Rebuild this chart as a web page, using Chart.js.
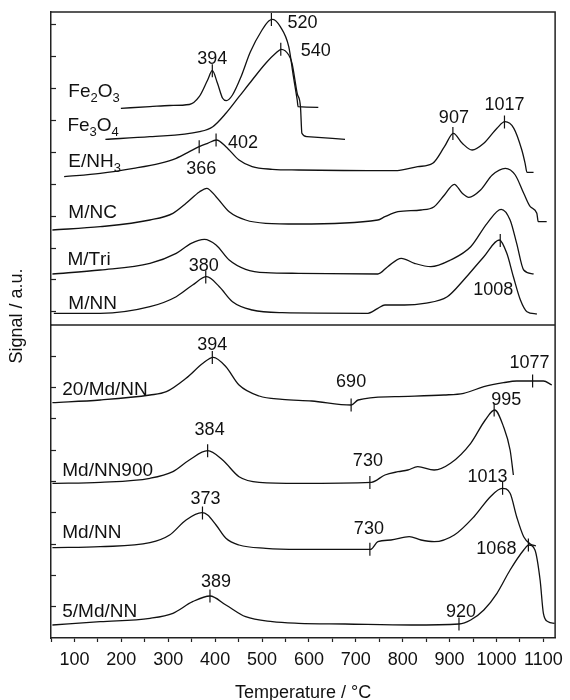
<!DOCTYPE html>
<html>
<head>
<meta charset="utf-8">
<script src="https://cdn.jsdelivr.net/npm/chart.js@4/dist/chart.umd.min.js"></script>
<style>
  html, body { margin: 0; padding: 0; background: #fff; }
  #wrap { position: relative; width: 570px; height: 700px; }
</style>
</head>
<body>
<div id="wrap"><canvas id="tpr" width="570" height="700"></canvas></div>
<script>
// ---- H2-TPR profiles: [temperature °C, signal a.u.] ----
// upper panel (reference materials)
const fe2o3 = [[199,216.7],[261,218.3],[303,219.5],[345,220.5],[366,228.3],[384,245],[394,254.3],[405,241.7],[416,226.7],[424,224.3],[437,230],[455,248],[475,273],[500,295],[515,304.3],[523,305.7],[539,298.3],[557,278.3],[567,248.3],[575,225],[577,218.3],[620,217.7]];
const fe3o4 = [[166,185.7],[261,188.3],[367,193.3],[395,198.3],[423,211.7],[451,228.3],[479,245],[508,261.7],[529,271.7],[541,275.7],[557,270],[564,261.7],[575,231.7],[582,218.3],[585,191.7],[596,188.3],[677,185.7]];
const eNH3 = [[78,148.3],[155,151.7],[226,156.7],[282,161.7],[317,166.7],[345,173.3],[366,178.3],[384,181.7],[403,185],[423,178.3],[451,165],[479,158.3],[522,155.7],[578,155],[783,154.3],[832,158.3],[864,161.7],[889,178.3],[908,191.7],[927,181.7],[948,175],[973,181.7],[1001,196.7],[1018,203.3],[1037,196.7],[1054,175],[1061,161.7],[1065,152.7],[1079,152.7]];
const mNC = [[53,95],[155,98.3],[261,105],[310,111.7],[338,121.7],[367,133.3],[382,136.7],[402,128.3],[430,113.3],[465,105],[508,101.7],[578,101],[747,105],[762,108.3],[790,113.3],[839,115],[867,118.3],[889,130],[910,140.7],[927,131.7],[941,127.7],[966,135],[991,150],[1019,156.7],[1040,150],[1058,131.7],[1072,118.3],[1086,111.7],[1089,103.3],[1107,103.3]];
const mTri = [[53,51],[155,55],[261,61.7],[317,71.7],[349,81.7],[377,85.7],[402,80],[430,65],[465,55.7],[508,52.3],[578,51.7],[747,51],[768,58.3],[797,66.7],[825,61.7],[860,58.3],[902,65],[945,78.3],[980,101.7],[1010,115.7],[1029,105],[1043,81.7],[1058,55],[1079,51]];
const mNN = [[56,11.7],[155,11.7],[261,18.3],[317,28.3],[352,40],[382,48.3],[409,38.3],[437,23.3],[479,15],[543,12.3],[726,11.7],[747,16.7],[762,20],[804,20],[846,21.7],[895,28.3],[930,45],[973,68.3],[1006,85],[1022,71.7],[1036,48.3],[1051,25],[1065,13.3],[1086,11]];
// lower panel (Md series)
const md20NN = [[53,235.3],[155,238],[261,243],[296,246.3],[338,259.7],[374,274.7],[396,280.7],[423,271.3],[451,253],[494,242],[543,238.7],[606,237],[690,233],[705,238],[783,241.3],[888,243],[930,244.7],[973,251.3],[1015,255.3],[1043,257],[1077,257],[1100,257],[1118,253]];
const mdNN900 = [[53,154.7],[155,155.7],[261,159.7],[310,166.3],[345,178],[384,187.3],[416,178],[451,161.3],[494,155.7],[578,154.7],[733,155.7],[762,163],[790,166.3],[811,168],[832,171.3],[867,168],[902,174.7],[945,194.7],[976,218],[996,228],[1015,211.3],[1029,188],[1036,163]];
const mdNN = [[53,90.3],[155,91.3],[261,95.3],[303,103],[338,118],[372,125.3],[384,123],[402,113],[423,99.7],[451,93],[508,89.7],[578,88.7],[732,88.7],[747,96.3],[775,98],[814,101.3],[839,98],[867,96.3],[910,103],[952,121.3],[987,141.3],[1012,149.7],[1029,144.7],[1043,121.3],[1058,101.3],[1072,94],[1084,92]];
const md5NN = [[53,13],[155,16.3],[261,19.7],[310,24.7],[352,36.3],[389,42],[423,33],[465,21.3],[522,16.3],[578,14.7],[677,14],[818,13],[920,14],[945,18],[973,28],[1001,44.7],[1029,68],[1058,88],[1069,93],[1082,88],[1093,58],[1100,24.7],[1110,16.3],[1124,14.7]];

// peak maxima: [temperature °C, signal a.u.]; the label is the temperature
const upperPeaks = [[394,254.3],[520,305.5],[540,275.7],[366,178.3],[402,185],[907,191.5],[1017,203],[380,48],[1008,84.5]];
const lowerPeaks = [[394,280.5],[690,233],[1077,257],[384,187.3],[730,155.5],[995,228],[373,125],[730,88.7],[1013,149.7],[389,42],[920,14],[1068,93]];

// sample names ("_x" = subscript x)
const upperNames = ['Fe_2O_3', 'Fe_3O_4', 'E/NH_3', 'M/NC', 'M/Tri', 'M/NN'];
const lowerNames = ['20/Md/NN', 'Md/NN900', 'Md/NN', '5/Md/NN'];

// axis ticks
const xTicks = [50,100,150,200,250,300,350,400,450,500,550,600,650,700,750,800,850,900,950,1000,1050,1100];
const upperTicks = [13.3,45.2,77.0,108.9,140.7,172.6,204.4,236.3,268.1,300];
const lowerTicks = [31.3,62.6,93.9,125.2,156.5,187.8,219.1,250.4,281.7];

// ---- placement of annotation text (pixel offsets from the peak marker) ----
const upperPeakLabelOffset = [[0,-12],[31,4],[35,2],[2,22],[27,3],[1,-15],[0,-17],[-2,-11],[-7,50]];
const lowerPeakLabelOffset = [[0,-12],[0,-23],[-3,-18],[2,-21],[-2,-21],[12,-10],[3,-14],[-1,-20],[-15,-11],[6,-14],[2,-12],[-32,4]];
// name anchors: [temperature, signal] of the text baseline start
const upperNameAnchor = [[87,228.3],[85,194.3],[87,158.3],[87,106.7],[85,60],[87,15.7]];
const lowerNameAnchor = [[74,243],[74,162],[74,99.7],[74,21.3]];

const FONT = '"Liberation Sans", Arial, Helvetica, sans-serif';
const INK = '#111';

function curve(data, axis) {
  return {
    type: 'line', data, yAxisID: axis,
    borderColor: INK, borderWidth: 1.3, pointRadius: 0, fill: false,
    cubicInterpolationMode: 'monotone'
  };
}
function markers(data, axis) {
  return {
    type: 'line', data, yAxisID: axis, showLine: false,
    pointStyle: 'line', rotation: 90, pointRadius: 6.5,
    pointBorderColor: INK, pointBorderWidth: 1.2, pointBackgroundColor: INK
  };
}

function drawRich(ctx, text, x, y, size) {
  // text with "_c" subscripts, left aligned at baseline y
  let cx = x;
  for (let i = 0; i < text.length; i++) {
    const ch = text[i];
    if (ch === '_' && i + 1 < text.length) {
      const s = text[++i];
      ctx.font = `${Math.round(size * 0.66)}px ${FONT}`;
      ctx.fillText(s, cx, y + size * 0.3);
      cx += ctx.measureText(s).width;
    } else {
      ctx.font = `${size}px ${FONT}`;
      ctx.fillText(ch, cx, y);
      cx += ctx.measureText(ch).width;
    }
  }
}

const annotations = {
  id: 'annotations',
  afterDraw(chart) {
    const { ctx, chartArea: a, scales } = chart;
    const xs = scales.x, yt = scales.yTop, yl = scales.yLow;
    ctx.save();
    // frame: top, right and panel divider
    ctx.strokeStyle = '#222';
    ctx.lineWidth = 1.5;
    ctx.beginPath();
    ctx.moveTo(a.left, a.top); ctx.lineTo(a.right, a.top); ctx.lineTo(a.right, a.bottom);
    ctx.moveTo(a.left, yt.bottom); ctx.lineTo(a.right, yt.bottom);
    ctx.stroke();

    ctx.fillStyle = INK;
    // peak values
    ctx.font = `18px ${FONT}`;
    ctx.textAlign = 'center';
    ctx.textBaseline = 'middle';
    const peakText = (peaks, offs, ys) => peaks.forEach((p, i) => {
      const px = xs.getPixelForValue(p[0]) + offs[i][0];
      const py = ys.getPixelForValue(p[1]) + offs[i][1];
      ctx.fillText(String(p[0]), px, py);
    });
    peakText(upperPeaks, upperPeakLabelOffset, yt);
    peakText(lowerPeaks, lowerPeakLabelOffset, yl);

    // sample names
    ctx.textAlign = 'left';
    ctx.textBaseline = 'alphabetic';
    upperNames.forEach((n, i) => drawRich(ctx, n, xs.getPixelForValue(upperNameAnchor[i][0]), yt.getPixelForValue(upperNameAnchor[i][1]), 19));
    lowerNames.forEach((n, i) => drawRich(ctx, n, xs.getPixelForValue(lowerNameAnchor[i][0]), yl.getPixelForValue(lowerNameAnchor[i][1]), 19));

    // y-axis title
    ctx.translate(17.5, (a.top + a.bottom) / 2 - 9);
    ctx.rotate(-Math.PI / 2);
    ctx.textAlign = 'center';
    ctx.textBaseline = 'middle';
    ctx.font = `18px ${FONT}`;
    ctx.fillText('Signal / a.u.', 0, 0);
    ctx.restore();
  }
};

function panelAxis(ticks) {
  return {
    type: 'linear', position: 'left', stack: 'panels', stackWeight: 1,
    min: 0, max: 313,
    afterBuildTicks: s => { s.ticks = ticks.map(v => ({ value: v })); },
    afterFit: s => { s.width = 51; },
    ticks: { display: false },
    grid: { drawOnChartArea: false, drawTicks: true, tickLength: -5, tickColor: '#222', tickWidth: 1.2 },
    border: { color: '#222', width: 1.5 }
  };
}

new Chart(document.getElementById('tpr'), {
  data: {
    datasets: [
      curve(fe2o3, 'yTop'), curve(fe3o4, 'yTop'), curve(eNH3, 'yTop'),
      curve(mNC, 'yTop'), curve(mTri, 'yTop'), curve(mNN, 'yTop'),
      curve(md20NN, 'yLow'), curve(mdNN900, 'yLow'), curve(mdNN, 'yLow'), curve(md5NN, 'yLow'),
      markers(upperPeaks, 'yTop'), markers(lowerPeaks, 'yLow')
    ]
  },
  options: {
    responsive: false,
    animation: false,
    events: [],
    layout: { padding: { top: 12, right: 11, left: 0, bottom: 0 } },
    plugins: { legend: { display: false }, tooltip: { enabled: false } },
    scales: {
      x: {
        type: 'linear', position: 'bottom', min: 50, max: 1125,
        afterBuildTicks: s => { s.ticks = xTicks.map(v => ({ value: v })); },
        afterFit: s => { s.height = 62; },
        grid: { drawOnChartArea: false, drawTicks: true, tickLength: 4, tickColor: '#222', tickWidth: 1.2 },
        border: { color: '#222', width: 1.5 },
        ticks: {
          color: INK, padding: 7, maxRotation: 0, autoSkip: false,
          font: { family: FONT, size: 18 },
          callback: v => (v % 100 === 0 ? String(v) : '')
        },
        title: {
          display: true, text: 'Temperature / °C', color: INK,
          font: { family: FONT, size: 18 }, padding: { top: 0, bottom: -4 }
        }
      },
      yLow: panelAxis(lowerTicks),
      yTop: panelAxis(upperTicks)
    }
  },
  plugins: [annotations]
});
</script>
</body>
</html>
